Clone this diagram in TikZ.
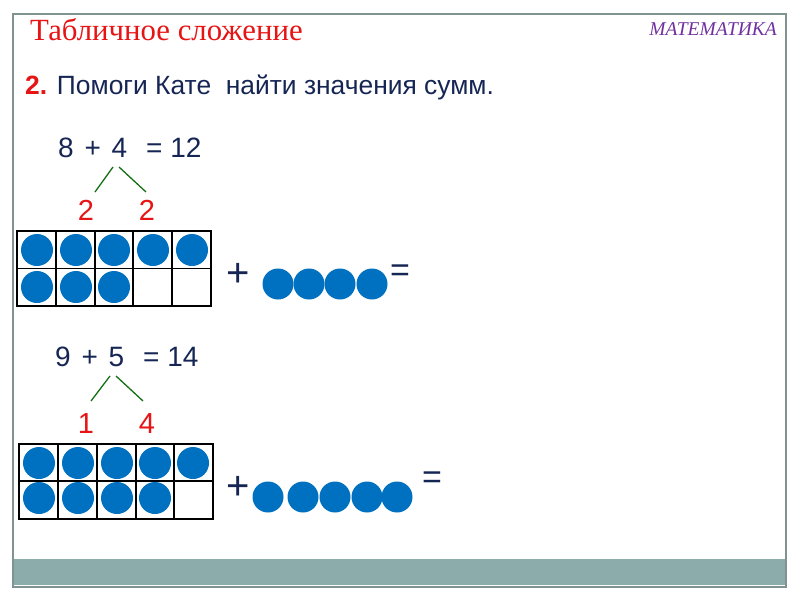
\documentclass[tikz,border=0pt]{standalone}
\usepackage{fontspec}
\setmainfont{Liberation Sans}
\newfontfamily\seriffont{Liberation Serif}
\definecolor{navy}{RGB}{22,38,84}
\definecolor{redtxt}{RGB}{230,20,20}
\definecolor{dotblue}{RGB}{0,112,192}
\definecolor{frame}{RGB}{128,146,146}
\definecolor{band}{RGB}{140,171,171}
\definecolor{purp}{RGB}{112,48,160}
\definecolor{grn}{RGB}{20,110,20}
\tikzset{
  eq/.style={font=\fontsize{28}{30}\selectfont, text=navy, inner sep=0pt, anchor=base west},
  part/.style={font=\fontsize{29}{31}\selectfont, text=redtxt, inner sep=0pt, anchor=base},
  plussign/.style={font=\fontsize{40}{42}\selectfont, text=navy, inner sep=0pt},
  eqsign/.style={font=\fontsize{34}{36}\selectfont, text=navy, inner sep=0pt},
  split/.style={draw=grn, line width=1.3pt},
  cellgrid/.style={draw=black, line width=1.6pt},
  dot/.style={fill=dotblue},
}
\newcommand\gp{\hspace{10.8pt}}
\begin{document}
\begin{tikzpicture}[x=1pt,y=-1pt]
\useasboundingbox (0,0) rectangle (800,600);
% frame and band
\fill[band] (14,559) rectangle (785,585);
\draw[frame, line width=1.3pt] (13,14) rectangle (786,587);
% titles
\node[inner sep=0pt, anchor=base west, text=redtxt, font=\seriffont\fontsize{30.8}{32}\selectfont] (title) at (30,40) {Табличное сложение};
\node[inner sep=0pt, anchor=base east, text=purp, font=\seriffont\itshape\fontsize{19.5}{21}\selectfont] (subj) at (777,35) {МАТЕМАТИКА};
\node[inner sep=0pt, anchor=base west, text=navy, font=\fontsize{26.4}{28}\selectfont] (task) at (25,94) {\textcolor{redtxt}{\textbf{2.}} Помоги Кате\ \ найти значения сумм.};
% ---- first example
\node[eq] (e1a) at (58,157) {8\gp+\gp4};
\node[eq] (e1b) at (146,157) {= 12};
\coordinate (s1) at (113,167); \coordinate (s1l) at (95,192);
\coordinate (s2) at (119,167); \coordinate (s2r) at (146,192);
\draw[split] (s1) -- (s1l);
\draw[split] (s2) -- (s2r);
\node[part] (p1a) at (86,220) {2};
\node[part] (p1b) at (147,220) {2};
% grid 1
\draw[cellgrid] (17,231) rectangle (211,306);
\draw[cellgrid] (17,268.5) -- (211,268.5);
\foreach \x in {56,95,133,172} \draw[cellgrid] (\x,231) -- (\x,306);
\foreach \x in {37,76,114,153,192} \fill[dot] (\x,250) circle (16);
\foreach \x in {37,76,114} \fill[dot] (\x,287) circle (16);
\node[plussign] (plus1) at (238,275) {+};
\foreach \x in {278,309,340,372} \fill[dot] (\x,284) circle (15.5);
\node[eqsign] (eqs1) at (400,273) {=};
% ---- second example
\node[eq] (e2a) at (55,366) {9\gp+\gp5};
\node[eq] (e2b) at (143,366) {= 14};
\coordinate (t1) at (110,376); \coordinate (t1l) at (91,401);
\coordinate (t2) at (116,376); \coordinate (t2r) at (143,401);
\draw[split] (t1) -- (t1l);
\draw[split] (t2) -- (t2r);
\node[part] (p2a) at (86,433) {1};
\node[part] (p2b) at (147,433) {4};
% grid 2
\draw[cellgrid] (19,444) rectangle (213,519);
\draw[cellgrid] (19,481) -- (213,481);
\foreach \x in {58,97,136,174} \draw[cellgrid] (\x,444) -- (\x,519);
\foreach \x in {39,78,117,155,193} \fill[dot] (\x,463) circle (16);
\foreach \x in {39,78,117,155} \fill[dot] (\x,498) circle (16);
\node[plussign] (plus2) at (238,488) {+};
\foreach \x in {268,303,335,367,397} \fill[dot] (\x,497) circle (15.5);
\node[eqsign] (eqs2) at (432,480) {=};
\end{tikzpicture}
\end{document}
